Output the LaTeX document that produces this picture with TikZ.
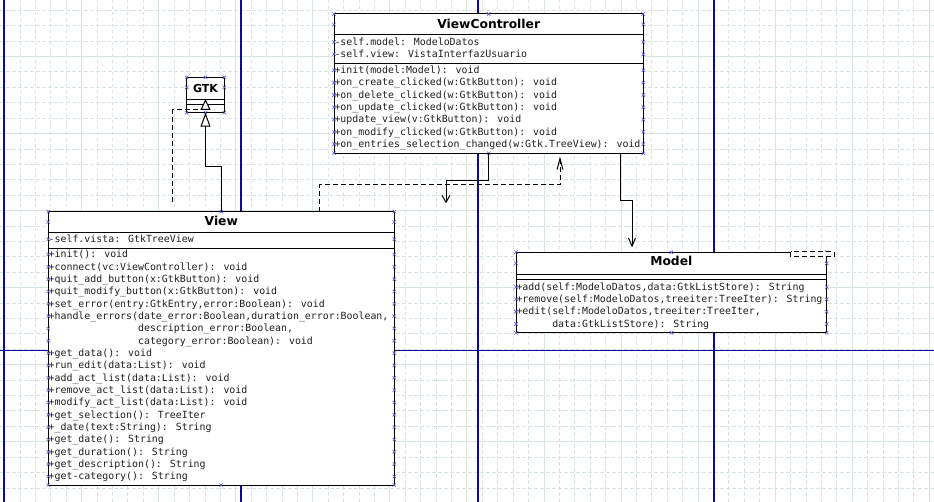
\documentclass[tikz,border=0pt]{standalone}
\usepackage{fontspec}
\usetikzlibrary{arrows.meta,calc}
\newfontfamily\monof{DejaVu Sans Mono}
\newfontfamily\titlef{DejaVu Sans}
\definecolor{gridc}{RGB}{216,228,226}
\definecolor{pageb}{RGB}{10,10,160}
\definecolor{cpc}{RGB}{90,90,225}
\tikzset{
 gridmin/.style={gridc, line width=0.9pt, dash pattern=on 3.5pt off 2.5pt},
 gridmaj/.style={gridc, line width=1pt},
 pageline/.style={pageb, line width=1.1pt},
 umlbox/.style={draw=black, fill=white, line width=1pt, inner sep=0pt, outer sep=0pt, anchor=north west},
 sepline/.style={black, line width=1pt},
 mem/.style={font=\monof\fontsize{9.9}{12}\selectfont, anchor=base west, inner sep=0pt, text=black!88},
 ttl/.style={font=\titlef\bfseries\fontsize{12.3}{14}\selectfont, anchor=base, inner sep=0pt},
 conn/.style={black, line width=1pt},
 dsh/.style={dash pattern=on 5pt off 3pt},
 cpx/.pic={\draw[cpc, line width=0.6pt] (-1.7,-1.7)--(1.7,1.7) (-1.7,1.7)--(1.7,-1.7);}
}
\begin{document}
\begin{tikzpicture}[x=1pt,y=-1pt]
\useasboundingbox (0,0) rectangle (934,502);
\fill[white] (0,0) rectangle (934,502);
% grid
\foreach \n in {0,...,60}{
  \pgfmathsetmacro\gx{4.65+15.41*\n}
  \pgfmathtruncatemacro\r{mod(\n,5)}
  \ifnum\r=0 \draw[gridmaj] (\gx,0) -- (\gx,502); \else \draw[gridmin] (\gx,0) -- (\gx,502); \fi
}
\foreach \n in {2,...,33}{
  \pgfmathsetmacro\gy{56.5+15.41*(\n-5)}
  \pgfmathtruncatemacro\r{mod(\n,5)}
  \ifnum\r=0 \draw[gridmaj] (0,\gy) -- (934,\gy); \else \draw[gridmin] (0,\gy) -- (934,\gy); \fi
}
% page breaks
\foreach \px in {4,241,478,714} \draw[pageline] (\px,0) -- (\px,502);
\draw[pageline] (0,350.3) -- (934,350.3);

% boxes
\node[umlbox, minimum width=309.3pt, minimum height=139.3pt] (vc) at (334,14) {};
\node[umlbox, minimum width=37.6pt, minimum height=35.4pt] (gtk) at (186.7,77.3) {};
\node[umlbox, minimum width=346pt, minimum height=273.3pt] (view) at (48.3,211.7) {};
\node[umlbox, minimum width=310.7pt, minimum height=80.4pt] (model) at (516,252.3) {};

% compartments
\draw[sepline] ($(vc.north west)+(0,21)$) -- ($(vc.north east)+(0,21)$);
\draw[sepline] ($(vc.north west)+(0,49.3)$) -- ($(vc.north east)+(0,49.3)$);
\draw[sepline] ($(gtk.north west)+(0,22.7)$) -- ($(gtk.north east)+(0,22.7)$);
\draw[sepline] ($(gtk.north west)+(0,27.4)$) -- ($(gtk.north east)+(0,27.4)$);
\draw[sepline] ($(view.north west)+(0,20.6)$) -- ($(view.north east)+(0,20.6)$);
\draw[sepline] ($(view.north west)+(0,36.6)$) -- ($(view.north east)+(0,36.6)$);
\draw[sepline] ($(model.north west)+(0,22)$) -- ($(model.north east)+(0,22)$);
\draw[sepline] ($(model.north west)+(0,27.7)$) -- ($(model.north east)+(0,27.7)$);

% titles
\node[ttl] (vc-t) at (488.7,29) {ViewController};
\node[ttl, font=\titlef\bfseries\fontsize{11}{13}\selectfont] (gtk-t) at (205.5,92.3) {GTK};
\node[ttl] (view-t) at (221.3,225.7) {View};
\node[ttl] (model-t) at (671.3,266) {Model};

% ViewController members
\foreach \t [count=\i from 0] in {{-self.model: ModeloDatos},{-self.view: VistaInterfazUsuario}}{
  \node[mem] (vc-a\i) at (334.3,{45.3+12.3*\i}) {\t};
  \pic at (334,{42+12.3*\i}) {cpx}; \pic at (643.3,{42+12.3*\i}) {cpx};
}
\foreach \t [count=\i from 0] in {
 {+init(model:Model): void},
 {+on\_create\_clicked(w:GtkButton): void},
 {+on\_delete\_clicked(w:GtkButton): void},
 {+on\_update\_clicked(w:GtkButton): void},
 {+update\_view(v:GtkButton): void},
 {+on\_modify\_clicked(w:GtkButton): void},
 {+on\_entries\_selection\_changed(w:Gtk.TreeView): void}}{
  \node[mem] (vc-m\i) at (334.3,{73.6+12.3*\i}) {\t};
  \pic at (334,{70.3+12.3*\i}) {cpx}; \pic at (643.3,{70.3+12.3*\i}) {cpx};
}

% View members
\node[mem] (view-a0) at (48.5,242.5) {-self.vista: GtkTreeView};
\pic at (48.3,239.2) {cpx}; \pic at (394.3,239.2) {cpx};
\foreach \t [count=\i from 0] in {
 {+init(): void},
 {+connect(vc:ViewController): void},
 {+quit\_add\_button(x:GtkButton): void},
 {+quit\_modify\_button(x:GtkButton): void},
 {+set\_error(entry:GtkEntry,error:Boolean): void},
 {+handle\_errors(date\_error:Boolean,duration\_error:Boolean,},
 {\phantom{+handle\_errors(}description\_error:Boolean,},
 {\phantom{+handle\_errors(}category\_error:Boolean): void},
 {+get\_data(): void},
 {+run\_edit(data:List): void},
 {+add\_act\_list(data:List): void},
 {+remove\_act\_list(data:List): void},
 {+modify\_act\_list(data:List): void},
 {+get\_selection(): TreeIter},
 {+\_date(text:String): String},
 {+get\_date(): String},
 {+get\_duration(): String},
 {+get\_description(): String},
 {+get-category(): String}}{
  \node[mem] (view-m\i) at (48.5,{257.8+12.33*\i}) {\t};
  \pic at (48.3,{254.5+12.33*\i}) {cpx}; \pic at (394.3,{254.5+12.33*\i}) {cpx};
}

% Model members
\foreach \t [count=\i from 0] in {
 {+add(self:ModeloDatos,data:GtkListStore): String},
 {+remove(self:ModeloDatos,treeiter:TreeIter): String},
 {+edit(self:ModeloDatos,treeiter:TreeIter,},
 {\phantom{+edit(}data:GtkListStore): String}}{
  \node[mem] (model-m\i) at (516.3,{290.3+12.3*\i}) {\t};
  \pic at (516,{287+12.3*\i}) {cpx}; \pic at (826.7,{287+12.3*\i}) {cpx};
}

% connection point marks
\foreach \b in {vc,gtk,view,model}{
  \foreach \a in {north west,north,north east,south west,south,south east}{
    \pic at (\b.\a) {cpx};
  }
}
\pic at ($(vc.north west)+(0,10.5)$) {cpx}; \pic at ($(vc.north east)+(0,10.5)$) {cpx};
\pic at ($(gtk.north west)+(0,10)$) {cpx}; \pic at ($(gtk.north east)+(0,10)$) {cpx};
\pic at ($(view.north west)+(0,10.3)$) {cpx}; \pic at ($(view.north east)+(0,10.3)$) {cpx};
\pic at ($(model.north west)+(0,11)$) {cpx}; \pic at ($(model.north east)+(0,11)$) {cpx};

% connectors
\draw[conn, -{Triangle[length=14pt,width=10pt,fill=white]}] (view.north) -- ++(0,-45) -| (gtk.south);

\coordinate (rs) at (172.3,201.7);
\coordinate (rt) at ($(gtk.south)+(0,-13.7)$);
\draw[conn, dsh, -{Triangle[length=11pt,width=10pt,fill=white]}] (rs) |- ($(rt)+(0,11)$) -- (rt);

\coordinate (ds) at ($(view.north west)+(271,0)$);
\coordinate (dt) at ($(vc.south west)+(226,3.4)$);
\draw[conn, dsh, -{Straight Barb[length=11pt,width=6pt]}] (ds) -- ++(0,-26.7) -| (dt);

\coordinate (at) at (446,203.3);
\draw[conn, -{Straight Barb[length=7pt,width=8pt]}] (vc.south) -- ++(0,27.4) -| (at);

\coordinate (ms) at ($(vc.south west)+(286,0)$);
\coordinate (mt) at ($(model.north west)+(116,-5)$);
\draw[conn, -{Straight Barb[length=8pt,width=7pt]}] (ms) -- ++(0,47.4) -| (mt);

\draw[conn, dsh, fill=white] ($(model.north east)+(-36,-0.6)$) rectangle ($(model.north east)+(7.3,4.4)$);
\end{tikzpicture}
\end{document}
